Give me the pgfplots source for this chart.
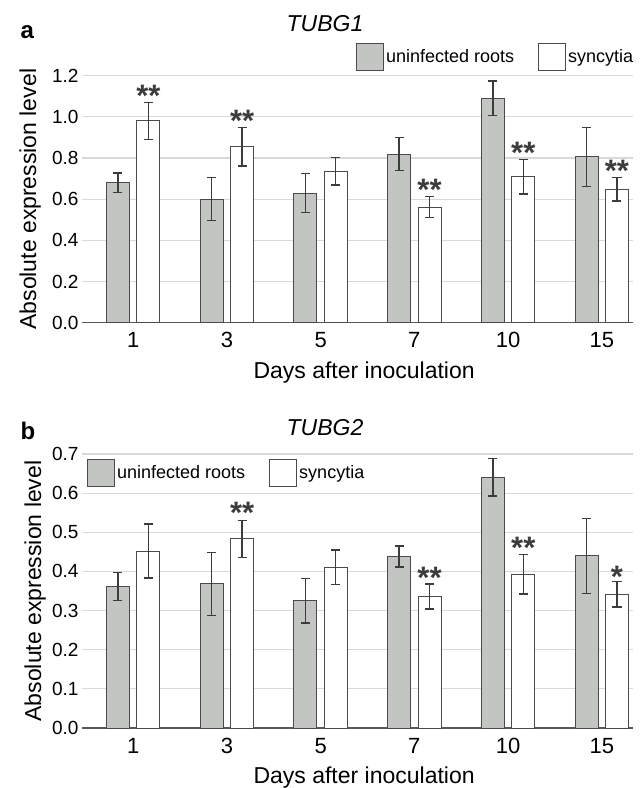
\documentclass[border=0pt]{standalone}
\usepackage{fontspec}
\setmainfont{Liberation Sans}
\usepackage{pgfplots}
\pgfplotsset{compat=1.18}
\usepackage{pgfplotstable}

\definecolor{barg}{RGB}{195,197,195}
\definecolor{edge}{RGB}{75,75,75}
\definecolor{errc}{RGB}{60,60,60}
\definecolor{gridc}{RGB}{217,217,217}
\definecolor{axc}{RGB}{89,89,89}

% x = category index (days 1,3,5,7,10,15), u/ue = uninfected roots, s/se = syncytia
\pgfplotstableread{
x u ue s se
0 0.680 0.047 0.980 0.090
1 0.601 0.103 0.855 0.093
2 0.630 0.096 0.736 0.067
3 0.819 0.081 0.561 0.051
4 1.091 0.084 0.710 0.084
5 0.806 0.144 0.649 0.057
}\tubga

\pgfplotstableread{
x top lab
0 1.070 **
1 0.948 **
3 0.612 **
4 0.794 **
5 0.706 **
}\starsa

\pgfplotstableread{
x u ue s se
0 0.361 0.036 0.452 0.069
1 0.368 0.081 0.483 0.048
2 0.325 0.057 0.411 0.044
3 0.438 0.027 0.336 0.032
4 0.641 0.048 0.393 0.051
5 0.440 0.096 0.342 0.033
}\tubgb

\pgfplotstableread{
x top lab
1 0.533 **
3 0.366 **
4 0.444 **
5 0.369 *
}\starsb

% half the distance between the two bars of a group, in category units
\def\off{0.1622}

\pgfplotsset{
  panel/.style={
    scale only axis, width=551pt,
    xmin=-0.546, xmax=5.333, ymin=0,
    xtick={0,1,2,3,4,5}, xticklabels={1,3,5,7,10,15},
    axis x line=bottom, axis y line=left,
    x axis line style={-, draw=axc, line width=1.3pt},
    y axis line style={draw=none},
    major tick length=0pt,
    ymajorgrids, grid style={draw=gridc, line width=1.1pt},
    yticklabel style={font=\fontsize{19}{19}\selectfont,
      /pgf/number format/.cd, fixed, fixed zerofill, precision=1, assume math mode=true},
    xticklabel style={font=\fontsize{22}{22}\selectfont, anchor=base, yshift=-25pt},
    xlabel={Days after inoculation}, ylabel={Absolute expression level},
    label style={font=\fontsize{23}{23}\selectfont},
    title style={font=\itshape\fontsize{23}{23}\selectfont, anchor=base},
    legend style={draw=none, fill=none, inner sep=0pt, font=\fontsize{18}{18}\selectfont,
      nodes={inner sep=2pt},
      /tikz/every even column/.append style={column sep=22pt}},
    legend columns=2, legend cell align=left,
  },
  boxleg/.style={legend image code/.code={\draw[##1,line width=1pt] (0pt,-13.5pt) rectangle (27pt,13.5pt);}},
  errs/.style={error bars/.cd, y dir=both, y explicit,
    error bar style={errc, line width=1.3pt},
    error mark options={rotate=90, errc, mark size=4.5pt, line width=1.3pt}},
  gbar/.style={ybar, bar width=23pt, bar shift=0pt, fill=barg, draw=edge, line width=1pt, boxleg, errs},
  wbar/.style={ybar, bar width=23pt, bar shift=0pt, fill=white, draw=edge, line width=1pt, boxleg, errs},
  stars/.style={draw=none, forget plot, nodes near coords, point meta=explicit symbolic,
    every node near coord/.style={font=\bfseries\fontsize{31}{31}\selectfont, text=errc,
      anchor=base, yshift=-4pt, inner sep=0pt}},
}

\begin{document}
\begin{tikzpicture}
\useasboundingbox (0,0) rectangle (644pt,-788pt);

\node[font=\bfseries\fontsize{24}{24}\selectfont, anchor=base west] at (17pt,-38pt) {a};
\begin{axis}[panel, at={(82pt,-322.7pt)}, anchor=south west, height=247pt,
  ymax=1.2, ytick={0,0.2,0.4,0.6,0.8,1.0,1.2},
  title={TUBG1}, title style={at={(0.441,1.154)}},
  xlabel style={at={(0.512,-0.225)}, anchor=base},
  ylabel style={at={(-0.094,0.5)}, anchor=center},
  legend style={at={(0.497,1.135)}, anchor=north west}]
\addplot[gbar] table[x expr=\thisrow{x}-\off, y=u, y error=ue] {\tubga};
\addlegendentry{uninfected roots}
\addplot[wbar] table[x expr=\thisrow{x}+\off, y=s, y error=se] {\tubga};
\addlegendentry{syncytia}
\addplot[stars] table[x expr=\thisrow{x}+\off, y=top, meta=lab] {\starsa};
\end{axis}

\node[font=\bfseries\fontsize{24}{24}\selectfont, anchor=base west] at (17pt,-439pt) {b};
\begin{axis}[panel, at={(82pt,-728pt)}, anchor=south west, height=274pt,
  ymax=0.7, ytick={0,0.1,0.2,0.3,0.4,0.5,0.6,0.7},
  title={TUBG2}, title style={at={(0.441,1.047)}},
  xlabel style={at={(0.512,-0.204)}, anchor=base},
  ylabel style={at={(-0.085,0.5)}, anchor=center},
  legend style={at={(0.009,0.982)}, anchor=north west}]
\addplot[gbar] table[x expr=\thisrow{x}-\off, y=u, y error=ue] {\tubgb};
\addlegendentry{uninfected roots}
\addplot[wbar] table[x expr=\thisrow{x}+\off, y=s, y error=se] {\tubgb};
\addlegendentry{syncytia}
\addplot[stars] table[x expr=\thisrow{x}+\off, y=top, meta=lab] {\starsb};
\end{axis}
\end{tikzpicture}
\end{document}
